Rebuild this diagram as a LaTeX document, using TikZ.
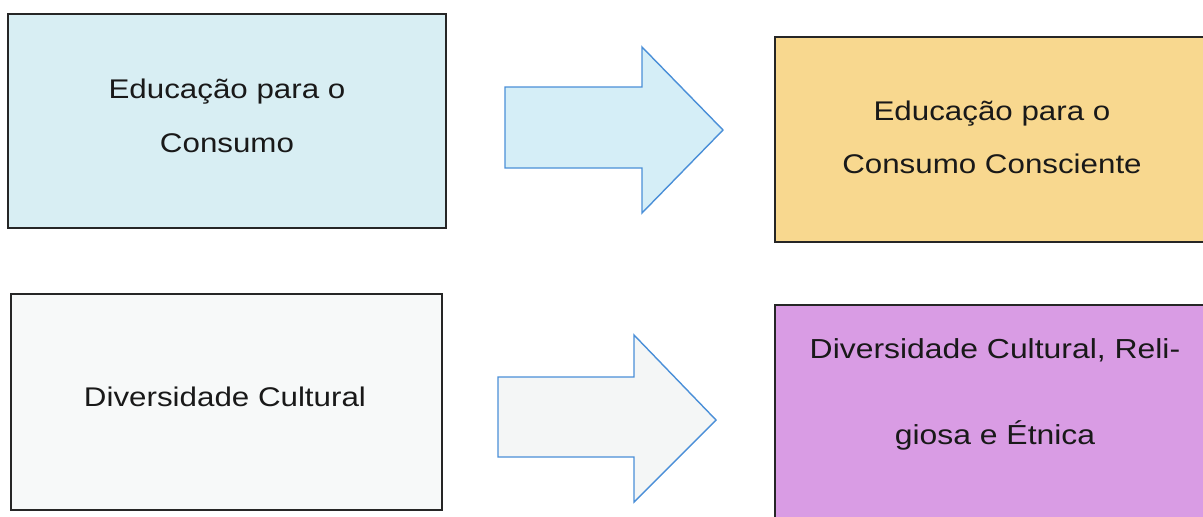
\documentclass[tikz,border=0pt]{standalone}
\usepackage{fontspec}
\setmainfont{Liberation Sans}[FakeStretch=1.16]
\begin{document}
\begin{tikzpicture}[x=1pt,y=-1pt,
  box/.style={draw=black!85,line width=1.4pt},
  bigarrow/.style={draw=arrowblue,line width=1.4pt,line join=miter},
  lbl/.style={inner sep=0pt,align=center,text=black!90,anchor=base},
]
\definecolor{cyanbox}{HTML}{D8EEF3}
\definecolor{yellowbox}{HTML}{F8D88F}
\definecolor{whitebox}{HTML}{F7F9F9}
\definecolor{purplebox}{HTML}{D99CE4}
\definecolor{arrowblue}{HTML}{4A8FD8}
\definecolor{arrowfillA}{HTML}{D5EEF7}
\definecolor{arrowfillB}{HTML}{F4F6F6}
\useasboundingbox[fill=white] (0,0) rectangle (1203,517);
% boxes
\draw[box,fill=cyanbox] (8,14) rectangle (446,228);
\draw[box,fill=yellowbox] (775,37) rectangle (1215,242);
\draw[box,fill=whitebox] (11,294) rectangle (442,510);
\draw[box,fill=purplebox] (775,305) rectangle (1215,530);
% texts (anchor=base is the last line's baseline)
\node[lbl,font=\fontsize{27}{54}\selectfont] (t1) at (227,152) {Educação para o\\Consumo};
\node[lbl,font=\fontsize{27}{53}\selectfont] (t2) at (992,173) {Educação para o\\Consumo Consciente};
\node[lbl,font=\fontsize{27}{54}\selectfont] (t3) at (225,406) {Diversidade Cultural};
\node[lbl,font=\fontsize{27.5}{86}\selectfont] (t4) at (995,444) {Diversidade Cultural, Reli-\\giosa e Étnica};
% block arrows
\draw[bigarrow,fill=arrowfillA] (505,87) -- (642,87) -- (642,47) -- (723,130) -- (642,213) -- (642,168) -- (505,168) -- cycle;
\draw[bigarrow,fill=arrowfillB] (498,377) -- (634,377) -- (634,335) -- (716,420) -- (634,502) -- (634,457) -- (498,457) -- cycle;
\end{tikzpicture}
\end{document}
